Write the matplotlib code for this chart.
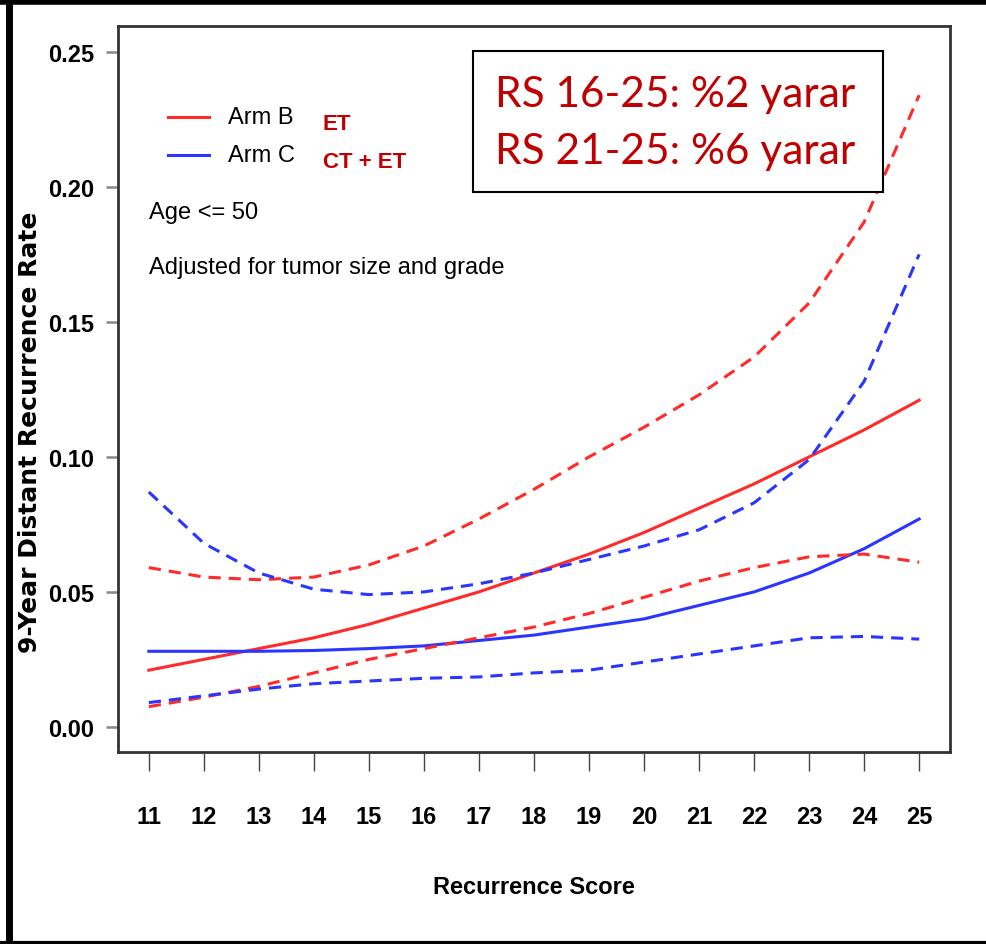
import matplotlib.pyplot as plt
import matplotlib.patches as mpatches

# Recurrence score on x
rs = [11, 12, 13, 14, 15, 16, 17, 18, 19, 20, 21, 22, 23, 24, 25]

# Arm B (ET) estimate and 95% band
arm_b = [0.021, 0.025, 0.029, 0.033, 0.038, 0.044, 0.050, 0.057, 0.064, 0.072, 0.081, 0.090, 0.100, 0.110, 0.121]
arm_b_hi = [0.059, 0.0555, 0.0545, 0.0555, 0.060, 0.067, 0.077, 0.088, 0.100, 0.111, 0.123, 0.137, 0.157, 0.187, 0.234]
arm_b_lo = [0.0075, 0.011, 0.015, 0.020, 0.025, 0.029, 0.033, 0.037, 0.042, 0.048, 0.054, 0.059, 0.063, 0.064, 0.061]

# Arm C (CT + ET) estimate and 95% band
arm_c = [0.028, 0.028, 0.028, 0.0283, 0.029, 0.030, 0.032, 0.034, 0.037, 0.040, 0.045, 0.050, 0.057, 0.066, 0.077]
arm_c_hi = [0.087, 0.068, 0.057, 0.051, 0.049, 0.050, 0.053, 0.057, 0.062, 0.067, 0.073, 0.083, 0.099, 0.128, 0.175]
arm_c_lo = [0.009, 0.0115, 0.014, 0.016, 0.017, 0.018, 0.0185, 0.020, 0.021, 0.024, 0.027, 0.030, 0.033, 0.0335, 0.0325]

y_ticks = [0.00, 0.05, 0.10, 0.15, 0.20, 0.25]
y_tick_labels = ['0.00', '0.05', '0.10', '0.15', '0.20', '0.25']

RED = '#ff2a2a'
BLUE = '#2a36ff'
DARKRED = '#c00000'
SANS = ['Liberation Sans', 'DejaVu Sans']

fig = plt.figure(figsize=(9.87, 9.45), dpi=100)
ax = fig.add_axes([118 / 987, 1 - 753 / 945, (950 - 118) / 987, (753 - 27) / 945])

# outer black frame (top, left, bottom)
fig.add_artist(plt.Line2D([0, 1], [1 - 2.5 / 945, 1 - 2.5 / 945], color='black', lw=4, transform=fig.transFigure))
fig.add_artist(plt.Line2D([9 / 987, 9 / 987], [0, 1], color='black', lw=5, transform=fig.transFigure))
fig.add_artist(plt.Line2D([0, 1], [1.5 / 945, 1.5 / 945], color='black', lw=3, transform=fig.transFigure))

lw = 2.2
dash = (4, 2.6)
ax.plot(rs, arm_b, color=RED, lw=lw)
ax.plot(rs, arm_c, color=BLUE, lw=lw)
for vals, col in [(arm_b_hi, RED), (arm_b_lo, RED), (arm_c_hi, BLUE), (arm_c_lo, BLUE)]:
    ax.plot(rs, vals, color=col, lw=lw, dashes=dash)

ax.set_xlim(10.44, 25.56)
ax.set_ylim(-0.0093, 0.2596)

ax.set_xticks(rs)
ax.set_xticklabels([str(v) for v in rs], fontsize=17, fontweight='bold', family=SANS)
ax.set_yticks(y_ticks)
ax.set_yticklabels(y_tick_labels, fontsize=17, fontweight='bold', family=SANS)
ax.tick_params(axis='x', length=14, width=1, color='#444444', pad=24)
ax.tick_params(axis='y', length=9, width=1.8, color='#888888', pad=8)

for s in ax.spines.values():
    s.set_color('#333333')
    s.set_linewidth(2)

ax.set_xlabel('Recurrence Score', fontsize=17, fontweight='bold', family=SANS, labelpad=34)
fig.text(30 / 987, 1 - 432 / 945, '9-Year Distant Recurrence Rate', rotation=90, fontsize=18,
         fontweight='bold', family='DejaVu Sans', ha='center', va='center')

# legend drawn by hand
ax.plot([11.35, 12.09], [0.2259, 0.2259], color=RED, lw=lw)
ax.plot([11.35, 12.09], [0.2119, 0.2119], color=BLUE, lw=lw)
ax.text(12.43, 0.2259, 'Arm B', fontsize=17, family=SANS, va='center')
ax.text(12.43, 0.2119, 'Arm C', fontsize=17, family=SANS, va='center')
ax.text(14.16, 0.2235, 'ET', fontsize=16, fontweight='bold', color=DARKRED, va='center', family=SANS)
ax.text(14.16, 0.2095, 'CT + ET', fontsize=16, fontweight='bold', color=DARKRED, va='center', family=SANS)
ax.text(11.0, 0.1907, 'Age <= 50', fontsize=17, family=SANS, va='center')
ax.text(11.0, 0.1704, 'Adjusted for tumor size and grade', fontsize=17, family=SANS, va='center')

# annotation box
ax.add_patch(mpatches.Rectangle((16.89, 0.1981), 7.46, 0.0523, transform=ax.transData,
                                fill=True, facecolor='white', edgecolor='black', lw=1.5, zorder=5))
ax.text(17.29, 0.2345, 'RS 16-25: %2 yarar', fontsize=30.5, color=DARKRED, va='center',
        family='Lato', zorder=6)
ax.text(17.29, 0.2134, 'RS 21-25: %6 yarar', fontsize=30.5, color=DARKRED, va='center',
        family='Lato', zorder=6)

fig.savefig('out.png', dpi=100)
